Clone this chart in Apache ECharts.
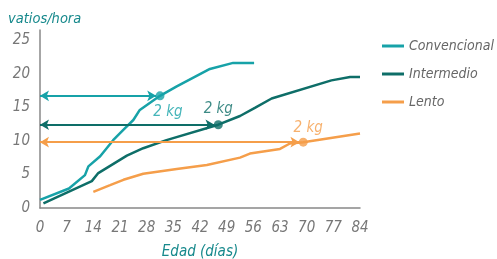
<!DOCTYPE html>
<html>
<head>
<meta charset="utf-8">
<script src="https://cdn.jsdelivr.net/npm/echarts@6/dist/echarts.min.js"></script>
<style>
  html, body { margin: 0; padding: 0; background: #fff; }
  #chart { width: 497px; height: 259px; }
</style>
</head>
<body>
<div id="chart"></div>
<script>
// datos (días, vatios/hora)
const convencional = [[0, 1.2], [7.6, 2.9], [11.8, 4.9], [12.7, 6.2], [15.8, 7.7], [19.2, 10.1], [21.8, 11.6], [24.5, 13.1], [26.2, 14.6], [31.5, 16.7], [35.9, 18.1], [44.6, 20.7], [50.7, 21.6], [56.2, 21.6]];
const intermedio = [[0.9, 0.7], [13.6, 4.0], [15.3, 5.2], [22.8, 7.8], [27.1, 8.9], [33.2, 10.1], [46.8, 12.4], [52.5, 13.7], [56.4, 14.9], [60.8, 16.3], [76.5, 19.0], [81.4, 19.5], [84, 19.5]];
const lento = [[14, 2.4], [18.4, 3.4], [21.9, 4.2], [27.1, 5.1], [35.9, 5.8], [43.8, 6.4], [52.5, 7.5], [55.1, 8.1], [63, 8.8], [65.6, 9.6], [69.1, 9.8], [84, 11.1]];
// punto de 2 kg de cada estirpe
const dosKg = [[31.5, 16.7], [46.8, 12.4], [69.1, 9.8]];
const nombres = ["Convencional", "Intermedio", "Lento"];
const colores = ["#17a2a8", "#0e6e68", "#f59e4a"];

const chart = echarts.init(document.getElementById("chart"));
const fuente = "'Liberation Sans Narrow', 'DejaVu Sans Condensed', sans-serif";

const series = [];
[convencional, intermedio, lento].forEach(function (datos, i) {
  series.push({
    name: nombres[i],
    type: "line",
    data: datos,
    showSymbol: false,
    lineStyle: { color: colores[i], width: 2.5 },
    itemStyle: { color: colores[i] },
    animation: false,
    markLine: {
      silent: true,
      symbol: ["arrow", "arrow"],
      symbolSize: [8, 9],
      label: { show: false },
      lineStyle: { color: colores[i], width: 1.8, type: "solid" },
      data: [[{ coord: [0, dosKg[i][1]] }, { coord: [dosKg[i][0] - 1, dosKg[i][1]] }]]
    }
  });
});
// puntos y etiquetas "2 kg"
const desplaz = [[8, -1], [0, 1], [5, 3]];
dosKg.forEach(function (p, i) {
  series.push({
    name: "p" + i,
    type: "scatter",
    data: [p],
    symbolSize: 9,
    itemStyle: { color: colores[i] },
    animation: false,
    z: 5,
    label: {
      show: true,
      formatter: "2 kg",
      position: i === 0 ? "bottom" : "top",
      offset: desplaz[i],
      color: colores[i],
      fontFamily: fuente,
      fontStyle: "italic",
      fontSize: 15
    }
  });
});

const option = {
  animation: false,
  grid: { left: 40, right: 137, top: 30, bottom: 51, outerBoundsMode: "none", containLabel: false },
  legend: {
    data: nombres,
    orient: "vertical",
    left: 382,
    top: 39,
    padding: 0,
    icon: "rect",
    itemWidth: 22,
    itemHeight: 3,
    itemGap: 14,
    textStyle: { color: "#666", fontFamily: fuente, fontStyle: "italic", fontSize: 14 }
  },
  xAxis: {
    type: "value",
    min: 0,
    max: 84,
    interval: 7,
    name: "Edad (días)",
    nameLocation: "middle",
    nameGap: 37,
    nameTextStyle: { color: "#17898c", fontFamily: fuente, fontStyle: "italic", fontSize: 15 },
    axisLine: { lineStyle: { color: "#888", width: 1.5 } },
    axisTick: { show: false },
    splitLine: { show: false },
    axisLabel: { color: "#777", fontFamily: fuente, fontStyle: "italic", fontSize: 15, margin: 13 }
  },
  yAxis: {
    type: "value",
    min: 0,
    max: 26.5,
    interval: 5,
    name: "vatios/hora",
    nameLocation: "end",
    nameGap: 3,
    nameTextStyle: { color: "#17898c", fontFamily: fuente, fontStyle: "italic", fontSize: 14.5, align: "left", padding: [0, 0, 0, -32] },
    axisLine: { show: true, lineStyle: { color: "#888", width: 1.5 } },
    axisTick: { show: false },
    splitLine: { show: false },
    axisLabel: { color: "#777", fontFamily: fuente, fontStyle: "italic", fontSize: 15, margin: 10, showMaxLabel: false }
  },
  series: series
};
chart.setOption(option);
</script>
</body>
</html>
